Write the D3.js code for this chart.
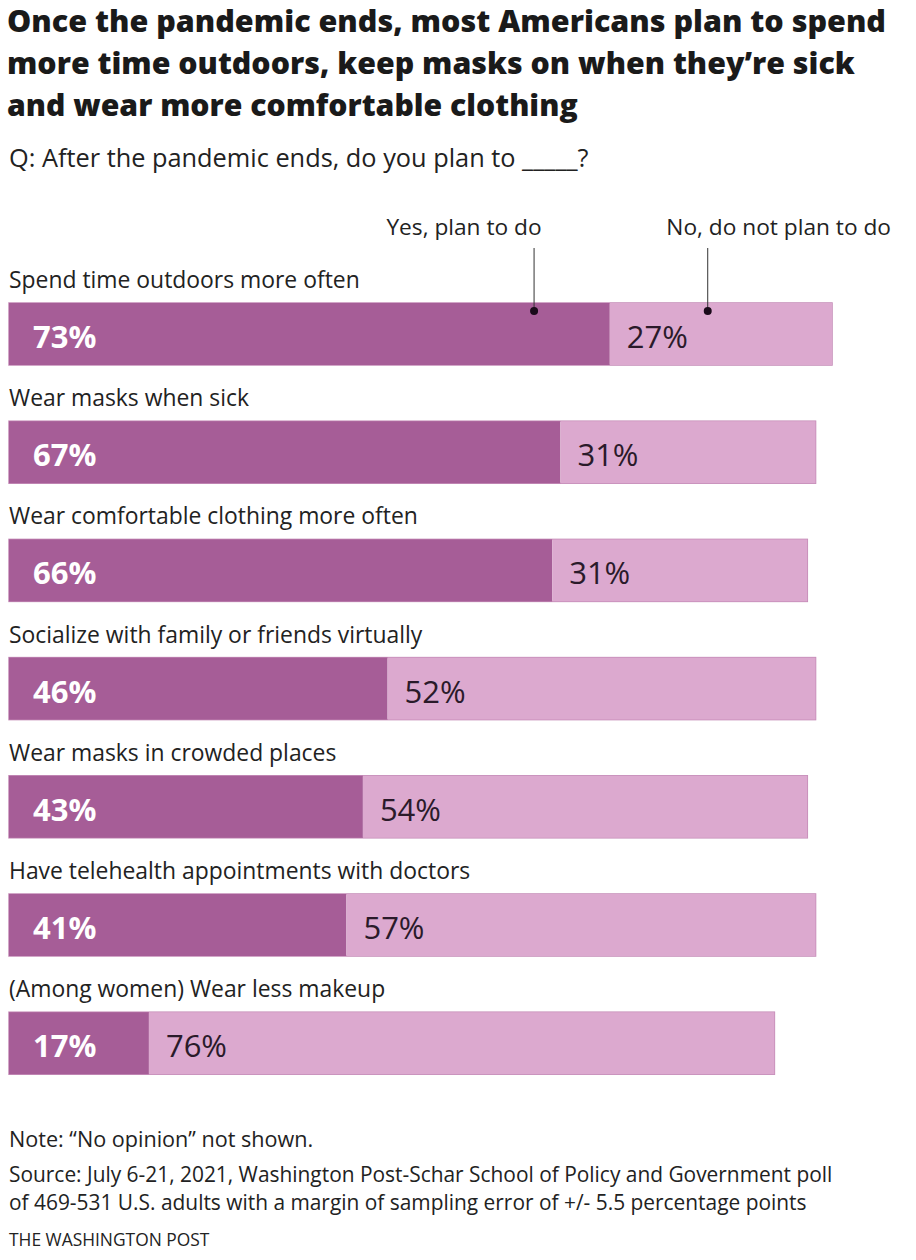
<!DOCTYPE html>
<html>
<head>
<meta charset="utf-8">
<script src="https://cdn.jsdelivr.net/npm/d3@7"></script>
<style>
  body { margin: 0; background: #fff; }
  svg { display: block; }
  text { font-family: "Open Sans", "Liberation Sans", sans-serif; fill: #222; }
</style>
</head>
<body>
<svg id="chart" width="916" height="1260"></svg>
<script>
(() => {
  const titleLines = [
    'Once the pandemic ends, most Americans plan to spend',
    'more time outdoors, keep masks on when they\u2019re sick',
    'and wear more comfortable clothing'
  ];
  const subtitle = 'Q: After the pandemic ends, do you plan to _____?';
  const categories = [
    'Spend time outdoors more often',
    'Wear masks when sick',
    'Wear comfortable clothing more often',
    'Socialize with family or friends virtually',
    'Wear masks in crowded places',
    'Have telehealth appointments with doctors',
    '(Among women) Wear less makeup'
  ];
  const yesValues = [73, 67, 66, 46, 43, 41, 17];
  const noValues = [27, 31, 31, 52, 54, 57, 76];
  const seriesNames = ['Yes, plan to do', 'No, do not plan to do'];
  const noteLines = ['Note: \u201cNo opinion\u201d not shown.'];
  const sourceLines = [
    'Source: July 6-21, 2021, Washington Post-Schar School of Policy and Government poll',
    'of 469-531 U.S. adults with a margin of sampling error of +/- 5.5 percentage points'
  ];
  const credit = 'THE WASHINGTON POST';

  const yesColor = '#a65d97';
  const noColor = '#dca9cf';
  const edgeColor = '#c48ab6';

  const svg = d3.select('#chart');

  // shrink/grow a text's font so it spans the width seen in the original
  function fitTo(sel, width) {
    sel.each(function () {
      const node = this;
      const w = node.getComputedTextLength();
      const fs = parseFloat(getComputedStyle(node).fontSize);
      if (w > 0) node.style.fontSize = `${(fs * width) / w}px`;
    });
  }

  // title + question
  const titleWidths = [879, 848, 571];
  svg.append('g')
    .selectAll('text')
    .data(titleLines)
    .join('text')
    .attr('x', 7)
    .attr('y', (d, i) => 32 + i * 42)
    .style('font-weight', 800)
    .style('font-size', '29px')
    .style('fill', '#1a1a1a')
    .text((d) => d)
    .each(function (d, i) { fitTo(d3.select(this), titleWidths[i]); });

  svg.append('text')
    .attr('x', 9)
    .attr('y', 167)
    .style('font-size', '22px')
    .text(subtitle)
    .call(fitTo, 580);

  const x = d3.scaleLinear().domain([0, 100]).range([9, 832]);
  const y = d3.scaleBand()
    .domain(categories)
    .range([303, 303 + 118.2 * categories.length])
    .paddingInner(0)
    .paddingOuter(0);
  const barH = 62;

  const rows = svg.append('g')
    .selectAll('g.row')
    .data(categories)
    .join('g')
    .attr('class', 'row')
    .attr('transform', (d) => `translate(0,${y(d)})`);

  rows.append('text')
    .attr('x', 9)
    .attr('y', -15)
    .style('font-size', '22.9px')
    .text((d) => d);

  // outline of whole bar
  rows.append('rect')
    .attr('x', x(0))
    .attr('y', 0)
    .attr('width', (d, i) => x(yesValues[i] + noValues[i]) - x(0))
    .attr('height', barH)
    .attr('fill', 'none')
    .attr('stroke', edgeColor)
    .attr('stroke-width', 1.5);

  rows.append('rect')
    .attr('x', x(0))
    .attr('y', 0)
    .attr('width', (d, i) => x(yesValues[i]) - x(0))
    .attr('height', barH)
    .attr('fill', yesColor);

  rows.append('rect')
    .attr('x', (d, i) => x(yesValues[i]))
    .attr('y', 0)
    .attr('width', (d, i) => x(yesValues[i] + noValues[i]) - x(yesValues[i]))
    .attr('height', barH)
    .attr('fill', noColor);

  rows.append('text')
    .attr('x', x(0) + 24)
    .attr('y', barH / 2 + 14)
    .style('font-size', '31px')
    .style('font-weight', 700)
    .style('fill', '#fff')
    .text((d, i) => `${yesValues[i]}%`);

  rows.append('text')
    .attr('x', (d, i) => x(yesValues[i]) + 17)
    .attr('y', barH / 2 + 14)
    .style('font-size', '31px')
    .style('fill', '#2a1a2a')
    .text((d, i) => `${noValues[i]}%`);

  // series annotations on first bar
  const first = categories[0];
  const annY = y(first);
  const ann = [
    { name: seriesNames[0], px: x(63.8), tx: 464, anchor: 'middle' },
    { name: seriesNames[1], px: x(84.9), tx: 891, anchor: 'end' }
  ];
  const annG = svg.append('g');
  annG.selectAll('line')
    .data(ann)
    .join('line')
    .attr('x1', (d) => d.px)
    .attr('x2', (d) => d.px)
    .attr('y1', 248)
    .attr('y2', annY + 8)
    .attr('stroke', '#333')
    .attr('stroke-width', 1);
  annG.selectAll('circle')
    .data(ann)
    .join('circle')
    .attr('cx', (d) => d.px)
    .attr('cy', annY + 8)
    .attr('r', 4)
    .attr('fill', '#1a0a1a');
  annG.selectAll('text')
    .data(ann)
    .join('text')
    .attr('x', (d) => d.tx)
    .attr('y', 235)
    .attr('text-anchor', (d) => d.anchor)
    .style('font-size', '22.7px')
    .text((d) => d.name);

  // footer
  svg.append('text')
    .attr('x', 9)
    .attr('y', 1147)
    .style('font-size', '21.6px')
    .text(noteLines[0]);

  svg.append('g')
    .selectAll('text')
    .data(sourceLines)
    .join('text')
    .attr('x', 9)
    .attr('y', (d, i) => 1182 + i * 28)
    .style('font-size', '20.9px')
    .text((d) => d);

  svg.append('text')
    .attr('x', 9)
    .attr('y', 1246)
    .style('font-size', '17.4px')
    .text(credit);
})();
</script>
</body>
</html>
